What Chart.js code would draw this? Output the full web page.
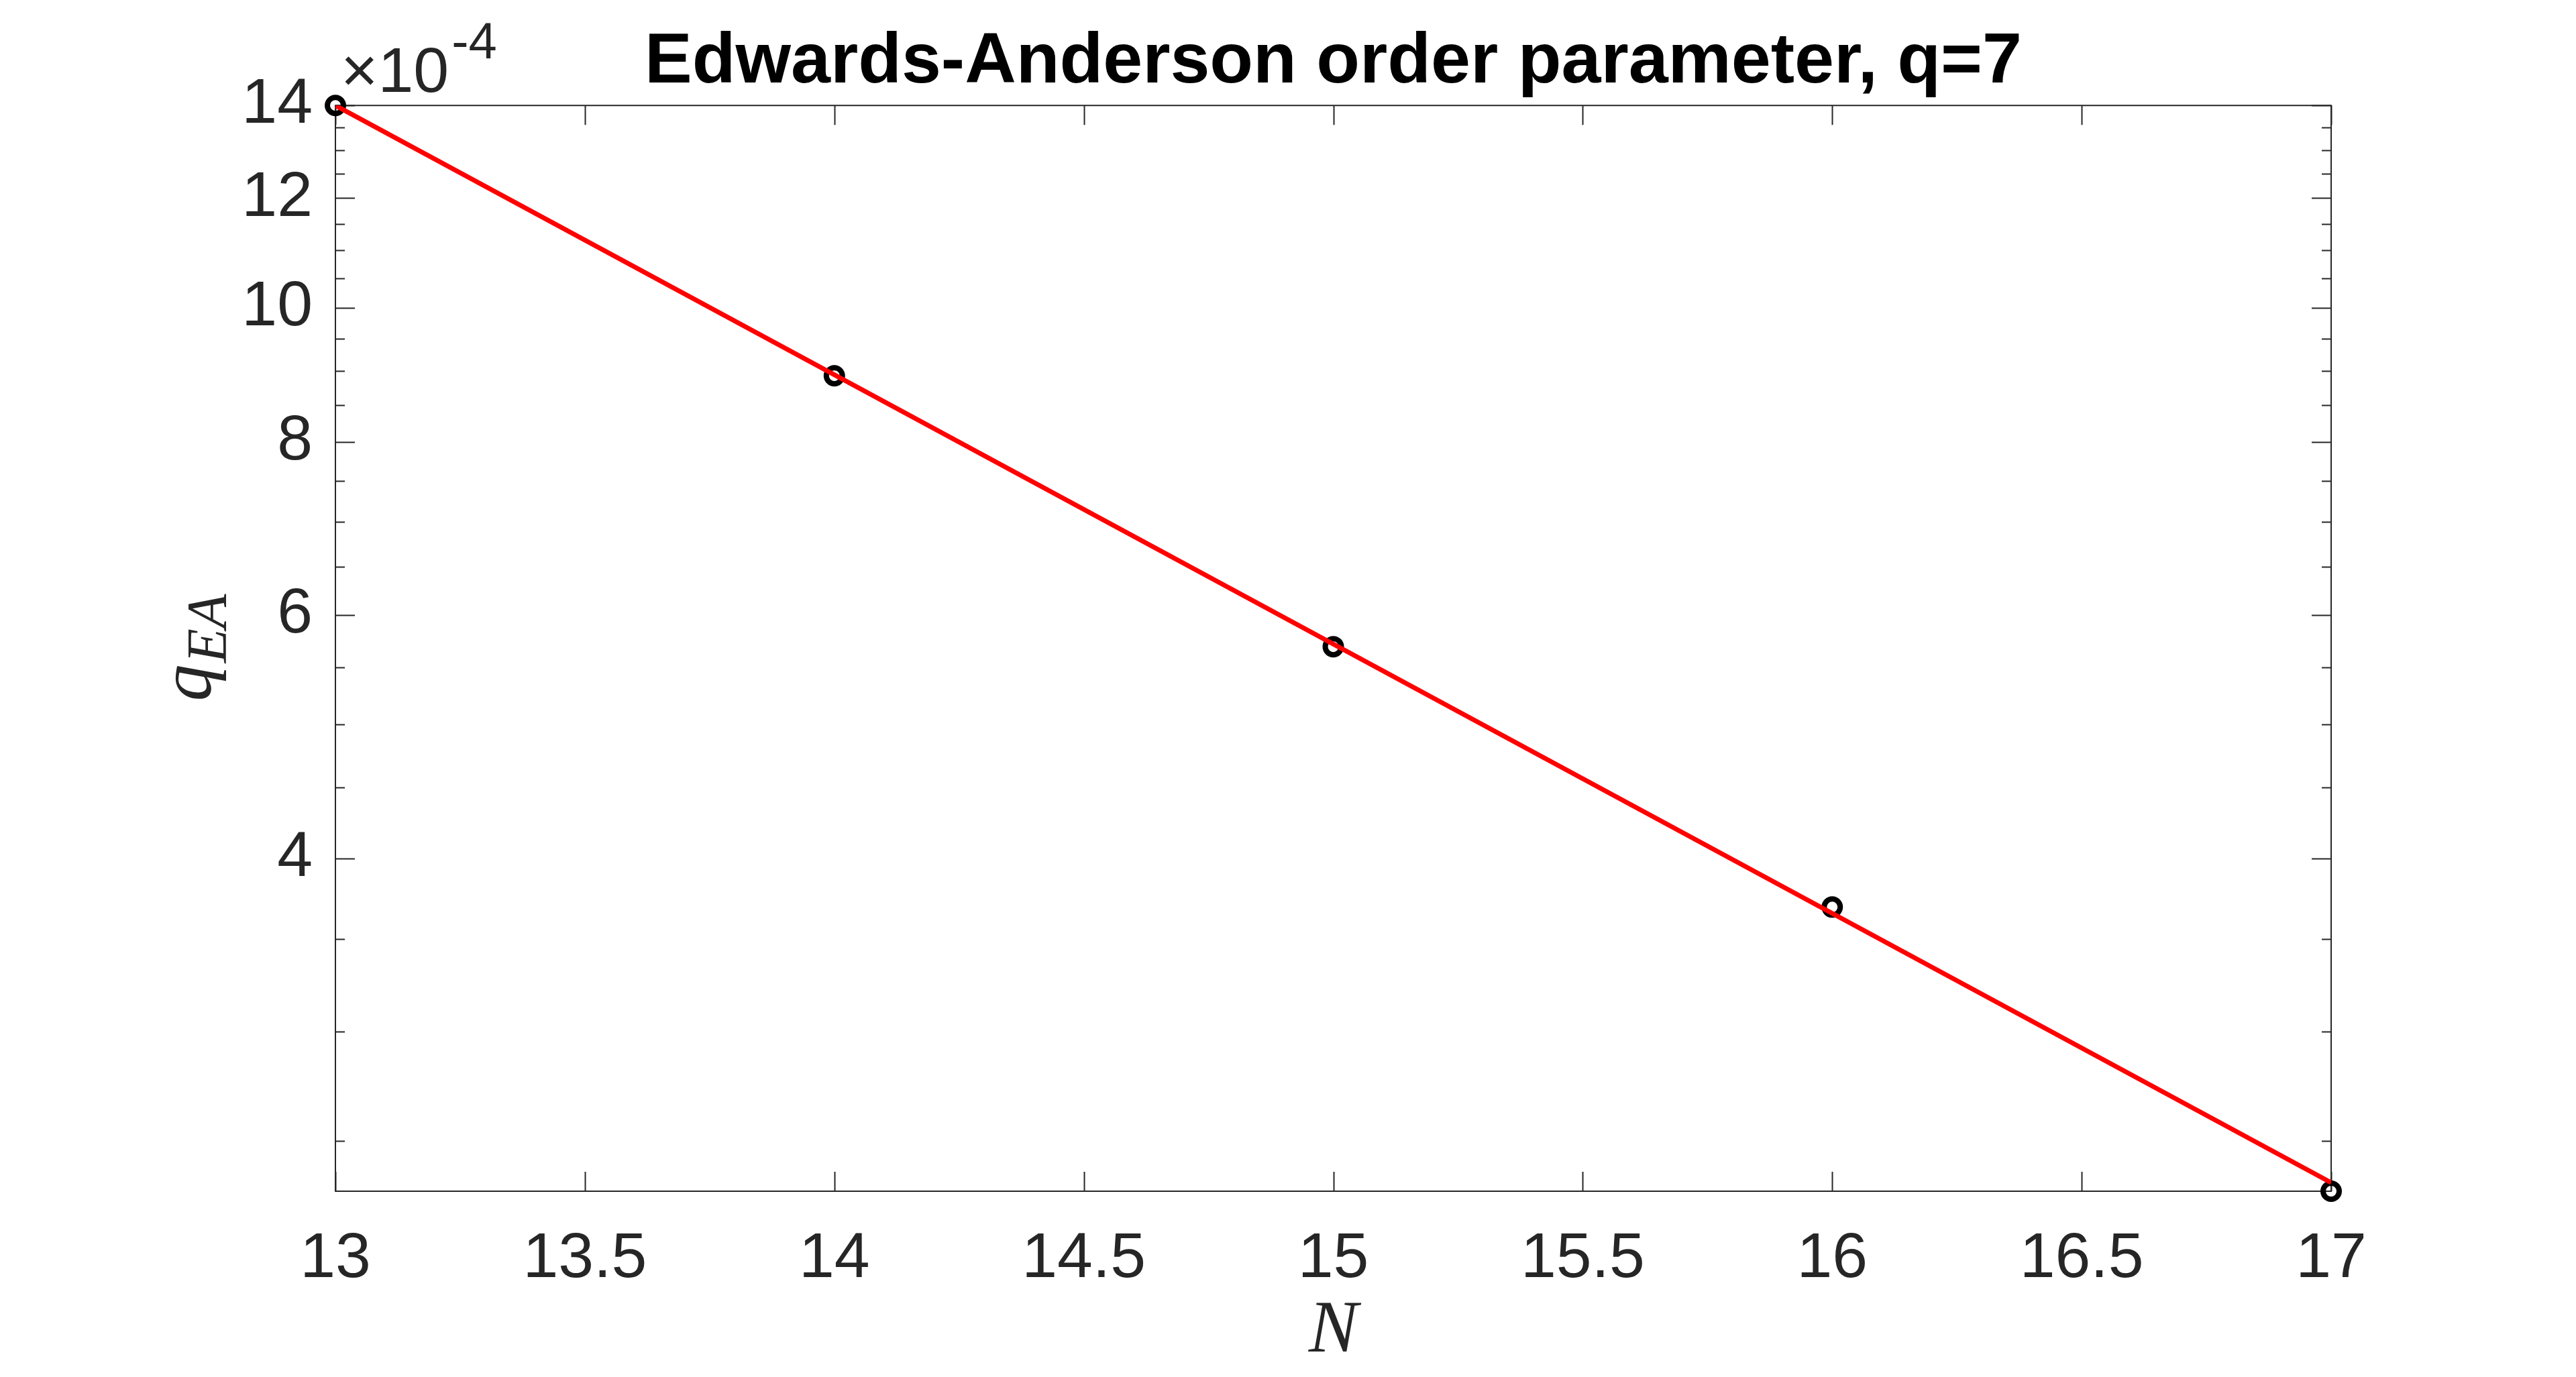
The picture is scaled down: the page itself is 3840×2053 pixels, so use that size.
<!DOCTYPE html>
<html>
<head>
<meta charset="utf-8">
<title>Edwards-Anderson order parameter, q=7</title>
<script src="https://cdn.jsdelivr.net/npm/chart.js@4.4.1/dist/chart.umd.min.js"></script>
<style>
  html, body { margin: 0; padding: 0; background: #fff; }
  canvas { display: block; }
</style>
</head>
<body>
<canvas id="eaChart" width="3840" height="2053"></canvas>
<script>
// system sizes and measured order parameter
var sizeN = [13, 14, 15, 16, 17];
var qEA = [14.0e-4, 8.93e-4, 5.69e-4, 3.69e-4, 2.30e-4];

// exponential fit (a straight line on the log axis)
var fitN = [13, 17];
var fitQ = [14.0e-4, 2.333e-4];

// axis ticks, y ones in units of 1e-4
var xTicks = [13, 13.5, 14, 14.5, 15, 15.5, 16, 16.5, 17];
var yMajorTicks = [4, 6, 8, 10, 12, 14];
var yMinorTicks = [2.5, 3, 3.5, 4.5, 5, 5.5, 6.5, 7, 7.5, 8.5, 9, 9.5, 10.5, 11, 11.5, 12.5, 13, 13.5];
var yExponent = -4;

var axisColor = '#262626';

// box, inward ticks and the latex-ish labels, drawn the way matlab does
var matlabAxes = {
    id: 'matlabAxes',
    beforeDatasetsDraw: function(chart) {
        var ctx = chart.ctx;
        var area = chart.chartArea;
        var xs = chart.scales.x;
        var ys = chart.scales.y;
        var major = 29, minor = 14;

        ctx.save();
        ctx.strokeStyle = axisColor;
        ctx.lineWidth = 2;
        ctx.beginPath();
        ctx.rect(area.left, area.top, area.right - area.left, area.bottom - area.top);
        ctx.stroke();

        ctx.beginPath();
        xTicks.forEach(function(v) {
            var px = Math.round(xs.getPixelForValue(v)) + 0.5;
            ctx.moveTo(px, area.bottom);
            ctx.lineTo(px, area.bottom - major);
            ctx.moveTo(px, area.top);
            ctx.lineTo(px, area.top + major);
        });
        yMajorTicks.forEach(function(v) {
            var py = Math.round(ys.getPixelForValue(v * Math.pow(10, yExponent))) + 0.5;
            ctx.moveTo(area.left, py);
            ctx.lineTo(area.left + major, py);
            ctx.moveTo(area.right, py);
            ctx.lineTo(area.right - major, py);
        });
        yMinorTicks.forEach(function(v) {
            var py = Math.round(ys.getPixelForValue(v * Math.pow(10, yExponent))) + 0.5;
            ctx.moveTo(area.left, py);
            ctx.lineTo(area.left + minor, py);
            ctx.moveTo(area.right, py);
            ctx.lineTo(area.right - minor, py);
        });
        ctx.stroke();
        ctx.restore();
    },
    afterDraw: function(chart) {
        var ctx = chart.ctx;
        var area = chart.chartArea;
        ctx.save();
        ctx.fillStyle = axisColor;
        ctx.textBaseline = 'alphabetic';

        // x label
        ctx.font = 'italic 110px "Liberation Serif"';
        ctx.textAlign = 'center';
        ctx.fillText('N', (area.left + area.right) / 2, 2015);

        // y label q_EA, rotated
        ctx.textAlign = 'left';
        var mainFont = 'italic 110px "Liberation Serif"';
        var subFont = 'italic 84px "Liberation Serif"';
        ctx.font = mainFont;
        var wq = ctx.measureText('q').width;
        ctx.font = subFont;
        var ws = ctx.measureText('EA').width;
        ctx.translate(314, (area.top + area.bottom) / 2);
        ctx.rotate(-Math.PI / 2);
        var x0 = -(wq + ws) / 2;
        ctx.font = mainFont;
        ctx.fillText('q', x0, 0);
        ctx.font = subFont;
        ctx.fillText('EA', x0 + wq + 2, 23);
        ctx.setTransform(1, 0, 0, 1, 0, 0);

        // exponent above the y axis
        ctx.font = '95px "Liberation Sans"';
        ctx.fillText('\u00d710', area.left + 8, 137);
        var w10 = ctx.measureText('\u00d710').width;
        ctx.font = '76px "Liberation Sans"';
        ctx.fillText(String(yExponent), area.left + 8 + w10 + 4, 87);
        ctx.restore();
    }
};

var ctx = document.getElementById('eaChart').getContext('2d');
var chart = new Chart(ctx, {
    type: 'scatter',
    data: {
        datasets: [{
            label: 'fit',
            data: fitN.map(function(n, i) { return {x: n, y: fitQ[i]}; }),
            showLine: true,
            borderColor: '#ff0000',
            borderWidth: 7,
            pointRadius: 0,
            tension: 0,
            order: 0
        }, {
            label: 'q_EA',
            data: sizeN.map(function(n, i) { return {x: n, y: qEA[i]}; }),
            pointStyle: 'circle',
            pointRadius: 12,
            pointBorderWidth: 8,
            pointBorderColor: '#000000',
            pointBackgroundColor: 'rgba(0,0,0,0)',
            clip: false,
            order: 1
        }]
    },
    options: {
        responsive: false,
        devicePixelRatio: 1,
        animation: false,
        events: [],
        layout: { padding: { left: 0, right: 365, top: 0, bottom: 0 } },
        plugins: {
            legend: { display: false },
            tooltip: { enabled: false },
            title: {
                display: true,
                fullSize: false,
                text: 'Edwards-Anderson order parameter, q=7',
                color: '#000000',
                font: { family: 'Liberation Sans', size: 106, weight: 'bold' },
                padding: { top: 30, bottom: 0 }
            }
        },
        scales: {
            x: {
                type: 'linear',
                min: sizeN[0],
                max: sizeN[sizeN.length - 1],
                grid: { display: false },
                border: { display: false },
                afterBuildTicks: function(scale) {
                    scale.ticks = xTicks.map(function(v) { return {value: v}; });
                },
                afterFit: function(scale) { scale.height = 277; },
                ticks: {
                    autoSkip: false,
                    maxRotation: 0,
                    padding: 37,
                    color: axisColor,
                    font: { family: 'Liberation Sans', size: 95 },
                    callback: function(value) { return String(value); }
                }
            },
            y: {
                type: 'logarithmic',
                min: Math.min.apply(null, qEA),
                max: Math.max.apply(null, qEA),
                grid: { display: false },
                border: { display: false },
                afterBuildTicks: function(scale) {
                    scale.ticks = yMajorTicks.map(function(v) {
                        return {value: v * Math.pow(10, yExponent)};
                    });
                },
                afterFit: function(scale) { scale.width = 500; },
                ticks: {
                    autoSkip: false,
                    padding: 26,
                    color: axisColor,
                    font: { family: 'Liberation Sans', size: 95 },
                    callback: function(value) {
                        return String(Math.round(value * Math.pow(10, -yExponent)));
                    }
                }
            }
        }
    },
    plugins: [matlabAxes]
});
</script>
</body>
</html>
